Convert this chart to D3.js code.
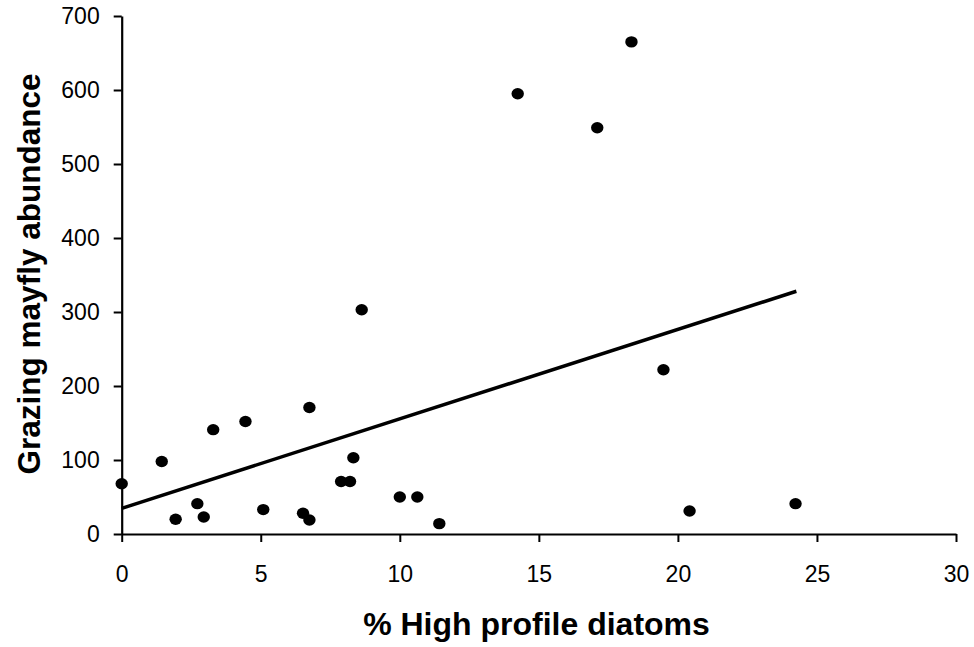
<!DOCTYPE html>
<html>
<head>
<meta charset="utf-8">
<script src="https://cdn.jsdelivr.net/npm/d3@7"></script>
<style>
  html, body { margin: 0; padding: 0; background: #fff; }
  svg { display: block; }
  text { font-family: "Liberation Sans", Arial, sans-serif; fill: #000; }
</style>
</head>
<body>
<svg id="chart" width="974" height="647"></svg>
<script>
// ---- data ----
const highProfilePct = [0, 1.44, 1.94, 2.72, 2.95, 3.29, 4.45, 5.09, 6.52, 6.75, 6.75, 7.89, 8.21, 8.33, 8.63, 10.0, 10.63, 11.42, 14.24, 17.1, 18.33, 19.48, 20.42, 24.23];
const mayflyAbundance = [68, 98, 20, 41, 23, 141, 152, 33, 28, 19, 171, 71, 71, 103, 303, 50, 50, 14, 595, 549, 665, 222, 31, 41];
const trendX = [0, 24.26];
const trendY = [34.7, 328];
const xTicks = [0, 5, 10, 15, 20, 25, 30];
const yTicks = [0, 100, 200, 300, 400, 500, 600, 700];
const xTitle = "% High profile diatoms";
const yTitle = "Grazing mayfly abundance";

// ---- layout ----
const svg = d3.select("#chart");
const mLeft = 121.7, mRight = 956, mTop = 16, mBottom = 534;

const x = d3.scaleLinear().domain([0, 30]).range([mLeft, mRight]);
const y = d3.scaleLinear().domain([0, 700]).range([mBottom, mTop]);

const xAxis = d3.axisBottom(x).tickValues(xTicks).tickSize(8).tickPadding(24).tickSizeOuter(0);
const yAxis = d3.axisLeft(y).tickValues(yTicks).tickSize(8).tickPadding(14).tickSizeOuter(0);

const gx = svg.append("g").attr("transform", `translate(0,${mBottom})`).call(xAxis);
const gy = svg.append("g").attr("transform", `translate(${mLeft},0)`).call(yAxis);

[gx, gy].forEach(g => {
  g.attr("font-size", 23).attr("font-family", "Liberation Sans, Arial, sans-serif");
  g.select(".domain").attr("stroke", "#000").attr("stroke-width", 2.2);
  g.selectAll(".tick line").attr("stroke", "#000").attr("stroke-width", 2);
  g.selectAll(".tick text").attr("font-size", 23).attr("fill", "#000");
});

// trend line
svg.append("line")
  .attr("x1", x(trendX[0])).attr("y1", y(trendY[0]))
  .attr("x2", x(trendX[1])).attr("y2", y(trendY[1]))
  .attr("stroke", "#000").attr("stroke-width", 3.5);

// points
svg.append("g").selectAll("ellipse")
  .data(highProfilePct.map((v, i) => [v, mayflyAbundance[i]]))
  .join("ellipse")
  .attr("cx", d => x(d[0]))
  .attr("cy", d => y(d[1]))
  .attr("rx", 6.2).attr("ry", 5.7)
  .attr("fill", "#000");

// titles
svg.append("text")
  .attr("x", 536.5).attr("y", 635)
  .attr("text-anchor", "middle")
  .attr("font-size", 32).attr("font-weight", "bold")
  .text(xTitle);

svg.append("text")
  .attr("transform", `translate(40,274) rotate(-90)`)
  .attr("text-anchor", "middle")
  .attr("font-size", 31.5).attr("font-weight", "bold")
  .text(yTitle);
</script>
</body>
</html>
